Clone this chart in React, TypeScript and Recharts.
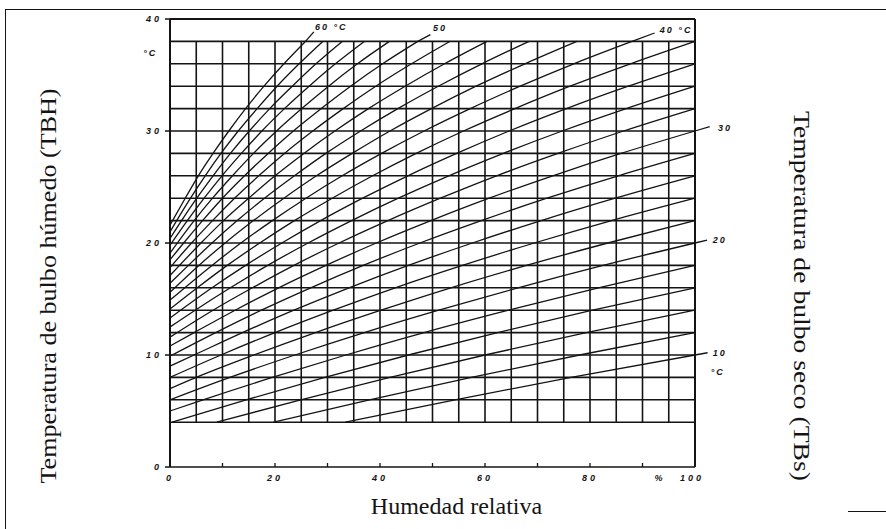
import React from 'react';
import { LineChart, Line, XAxis, YAxis, ReferenceLine, ReferenceDot } from 'recharts';

const INK = '#141414';

// relative humidity (%) and wet-bulb temperature (°C) grid
const RH_GRID = [0, 5, 10, 15, 20, 25, 30, 35, 40, 45, 50, 55, 60, 65, 70, 75, 80, 85, 90, 95, 100];
const TW_GRID = [4, 6, 8, 10, 12, 14, 16, 18, 20, 22, 24, 26, 28, 30, 32, 34, 36, 38];
const RH_TICKS = [0, 10, 20, 30, 40, 50, 60, 70, 80, 90, 100];
const TW_TICKS = [0, 10, 20, 30, 40];

// dry-bulb temperature of each slanted line (°C)
const DRY_BULB = [10, 12, 14, 16, 18, 20, 22, 24, 26, 28, 30, 32, 34, 36, 38, 40, 42, 44, 46, 48, 50, 52, 54, 56, 58, 60];

// [relative humidity %, wet-bulb °C] along each dry-bulb line
const DRY_BULB_CURVES: [number, number][][] = [
  [[33.4, 4], [54.3, 6], [76.4, 8], [100, 10]],
  [[19.7, 4], [38.0, 6], [57.4, 8], [78.0, 10], [100, 12]],
  [[8.9, 4], [24.9, 6], [41.9, 8], [60.0, 10], [79.3, 12], [100, 14]],
  [[0.4, 4], [14.5, 6], [29.5, 8], [45.4, 10], [62.4, 12], [80.5, 14], [100, 16]],
  [[0, 5.0], [6.3, 6], [19.5, 8], [33.5, 10], [48.4, 12], [64.5, 14], [81.6, 16], [100, 18]],
  [[0, 6.0], [11.4, 8], [23.8, 10], [37.0, 12], [51.2, 14], [66.3, 16], [82.5, 18], [100, 20]],
  [[0, 7.0], [5.0, 8], [16.0, 10], [27.7, 12], [40.2, 14], [53.5, 16], [67.9, 18], [83.4, 20], [100, 22]],
  [[0, 8.0], [9.7, 10], [20.0, 12], [31.1, 14], [42.9, 16], [55.7, 18], [69.4, 20], [84.1, 22], [100, 24]],
  [[0, 9.0], [4.6, 10], [13.8, 12], [23.6, 14], [34.1, 16], [45.4, 18], [57.6, 20], [70.7, 22], [84.8, 24], [100, 26]],
  [[0, 9.9], [8.7, 12], [17.4, 14], [26.8, 16], [36.8, 18], [47.6, 20], [59.3, 22], [71.8, 24], [85.4, 26], [100, 28]],
  [[0, 10.8], [4.6, 12], [12.4, 14], [20.7, 16], [29.7, 18], [39.3, 20], [49.7, 22], [60.8, 24], [72.9, 26], [85.9, 28], [100, 30]],
  [[0, 11.6], [8.2, 14], [15.7, 16], [23.6, 18], [32.2, 20], [41.5, 22], [51.5, 24], [62.2, 26], [73.9, 28], [86.4, 30], [100, 32]],
  [[0, 12.5], [4.8, 14], [11.5, 16], [18.6, 18], [26.3, 20], [34.6, 22], [43.5, 24], [53.1, 26], [63.5, 28], [74.7, 30], [86.9, 32], [100, 34]],
  [[0, 13.3], [8.0, 16], [14.4, 18], [21.3, 20], [28.7, 22], [36.7, 24], [45.3, 26], [54.6, 28], [64.6, 30], [75.5, 32], [87.3, 34], [100, 36]],
  [[0, 14.1], [5.2, 16], [10.9, 18], [17.1, 20], [23.7, 22], [30.9, 24], [38.6, 26], [46.9, 28], [55.9, 30], [65.7, 32], [76.2, 34], [87.7, 36], [100, 38]],
  [[0, 14.9], [8.0, 18], [13.5, 20], [19.5, 22], [25.9, 24], [32.8, 26], [40.3, 28], [48.4, 30], [57.2, 32], [66.7, 34], [76.9, 36], [88.0, 38]],
  [[0, 15.6], [5.5, 18], [10.5, 20], [15.9, 22], [21.7, 24], [27.9, 26], [34.7, 28], [41.9, 30], [49.8, 32], [58.3, 34], [67.6, 36], [77.5, 38]],
  [[0, 16.4], [3.5, 18], [8.0, 20], [12.8, 22], [18.0, 24], [23.7, 26], [29.7, 28], [36.3, 30], [43.4, 32], [51.1, 34], [59.4, 36], [68.4, 38]],
  [[0, 17.1], [5.9, 20], [10.2, 22], [15.0, 24], [20.0, 26], [25.5, 28], [31.4, 30], [37.8, 32], [44.8, 34], [52.3, 36], [60.4, 38]],
  [[0, 17.8], [4.1, 20], [8.1, 22], [12.3, 24], [16.9, 26], [21.8, 28], [27.2, 30], [33.0, 32], [39.2, 34], [46.0, 36], [53.3, 38]],
  [[0, 18.5], [2.6, 20], [6.2, 22], [10.0, 24], [14.2, 26], [18.7, 28], [23.5, 30], [28.8, 32], [34.4, 34], [40.5, 36], [47.2, 38]],
  [[0, 19.1], [4.6, 22], [8.1, 24], [11.9, 26], [15.9, 28], [20.3, 30], [25.1, 32], [30.2, 34], [35.7, 36], [41.8, 38]],
  [[0, 19.8], [3.3, 22], [6.5, 24], [9.9, 26], [13.6, 28], [17.5, 30], [21.8, 32], [26.5, 34], [31.5, 36], [37.0, 38]],
  [[0, 20.4], [2.2, 22], [5.1, 24], [8.2, 26], [11.5, 28], [15.1, 30], [19.0, 32], [23.3, 34], [27.8, 36], [32.8, 38]],
  [[0, 21.0], [3.9, 24], [6.7, 26], [9.7, 28], [13.0, 30], [16.6, 32], [20.4, 34], [24.6, 36], [29.1, 38]],
  [[0, 21.6], [2.9, 24], [5.4, 26], [8.2, 28], [11.2, 30], [14.4, 32], [17.9, 34], [21.7, 36], [25.8, 38]],
];

// labelled lines run a little past the grid towards their tag
const LEADERS: { t: number; to: [number, number] }[] = [
  { t: 10, to: [102.4, 10.2] },
  { t: 20, to: [102.3, 20.25] },
  { t: 30, to: [102.8, 30.4] },
  { t: 40, to: [92.3, 38.75] },
  { t: 50, to: [49.6, 38.6] },
  { t: 60, to: [27.4, 38.85] },
];

const TAGS: { text: string; rh: number; tw: number }[] = [
  { text: '60 °C', rh: 27.6, tw: 39.3 },
  { text: '50', rh: 50.1, tw: 39.2 },
  { text: '40 °C', rh: 93.3, tw: 39.0 },
  { text: '30', rh: 104.4, tw: 30.3 },
  { text: '20', rh: 103.4, tw: 20.3 },
  { text: '10', rh: 103.4, tw: 10.2 },
  { text: '°C', rh: 103.0, tw: 8.5 },
  { text: '°C', rh: -5.1, tw: 37.0 },
];

const tickFont = {
  fontFamily: 'Liberation Sans, sans-serif',
  fontStyle: 'italic' as const,
  fontWeight: 700,
  fontSize: 9,
  letterSpacing: 3,
  fill: INK,
};

const XTick = (props: any) => {
  const { x, y, payload } = props;
  const v = payload.value;
  return (
    <g>
      {v > 0 && v < 100 && <line x1={x} x2={x} y1={y} y2={y - 4} stroke={INK} strokeWidth={1.3} />}
      {v % 20 === 0 && v < 100 && (
        <text x={x} y={y + 14} textAnchor="middle" {...tickFont}>{v}</text>
      )}
      {v === 100 && (
        <>
          <text x={x - 3} y={y + 14} textAnchor="middle" {...tickFont}>{v}</text>
          <text x={x - 35} y={y + 14} textAnchor="middle" {...tickFont}>%</text>
        </>
      )}
    </g>
  );
};

const YTick = (props: any) => {
  const { x, y, payload } = props;
  return (
    <text x={x + 3} y={y} dy="0.35em" textAnchor="end" {...tickFont}>{payload.value}</text>
  );
};

const serif = { fontFamily: 'Liberation Serif, serif', fill: INK };

const renderXTitle = (props: any) => {
  const vb = props.viewBox;
  return (
    <text x={vb.x + vb.width / 2 + 24} y={vb.y + 47} textAnchor="middle" fontSize={24} {...serif}>
      Humedad relativa
    </text>
  );
};

const renderLeftTitle = (props: any) => {
  const vb = props.viewBox;
  const cx = vb.x - 74;
  const cy = vb.y + vb.height / 2 + 43;
  return (
    <text transform={`translate(${cx}, ${cy}) rotate(-90)`} textAnchor="middle" fontSize={24}
      textLength={395} lengthAdjust="spacingAndGlyphs" {...serif}>
      Temperatura de bulbo húmedo (TBH)
    </text>
  );
};

const renderRightTitle = (props: any) => {
  const vb = props.viewBox;
  const cx = vb.x + 99;
  const cy = vb.y + vb.height / 2 + 53;
  return (
    <text transform={`translate(${cx}, ${cy}) rotate(90)`} textAnchor="middle" fontSize={24}
      textLength={370} lengthAdjust="spacingAndGlyphs" {...serif}>
      Temperatura de bulbo seco (TBs)
    </text>
  );
};

export default function App() {
  return (
    <div style={{ position: 'absolute', left: 0, top: 0, width: 886, height: 529, background: '#fff' }}>
      <LineChart width={886} height={529} margin={{ top: 19, right: 131, bottom: 32, left: 130 }}>
        <XAxis
          type="number"
          dataKey="rh"
          domain={[0, 100]}
          ticks={RH_TICKS}
          interval={0}
          tickSize={0}
          tickMargin={0}
          tickLine={false}
          tick={<XTick />}
          axisLine={{ stroke: INK, strokeWidth: 1.6 }}
          height={30}
          label={renderXTitle}
        />
        <YAxis
          type="number"
          domain={[0, 40]}
          ticks={TW_TICKS}
          interval={0}
          tickSize={5}
          tickMargin={6}
          tickLine={{ stroke: INK, strokeWidth: 1.5 }}
          tick={<YTick />}
          axisLine={{ stroke: INK, strokeWidth: 2 }}
          width={40}
          label={renderLeftTitle}
        />
        <YAxis
          yAxisId="tbs"
          orientation="right"
          type="number"
          domain={[0, 40]}
          tick={false}
          tickLine={false}
          axisLine={false}
          width={60}
          label={renderRightTitle}
        />

        {RH_GRID.map((rh) => (
          <ReferenceLine key={`v${rh}`} segment={[{ x: rh, y: 4 }, { x: rh, y: 38 }]} stroke={INK} strokeWidth={1.6} />
        ))}
        {TW_GRID.map((tw) => (
          <ReferenceLine key={`h${tw}`} segment={[{ x: 0, y: tw }, { x: 100, y: tw }]} stroke={INK} strokeWidth={1.6} />
        ))}

        {DRY_BULB.map((t, i) => (
          <Line
            key={t}
            data={DRY_BULB_CURVES[i].map(([rh, tw]) => ({ rh, tw }))}
            dataKey="tw"
            type="monotone"
            stroke={INK}
            strokeWidth={1.3}
            dot={false}
            activeDot={false}
            isAnimationActive={false}
          />
        ))}

        {LEADERS.map(({ t, to }) => {
          const curve = DRY_BULB_CURVES[DRY_BULB.indexOf(t)];
          const end = curve[curve.length - 1];
          return (
            <ReferenceLine
              key={`l${t}`}
              segment={[{ x: end[0], y: end[1] }, { x: to[0], y: to[1] }]}
              stroke={INK}
              strokeWidth={1.3}
              ifOverflow="visible"
            />
          );
        })}

        <ReferenceLine y={40} stroke={INK} strokeWidth={2} />
        <ReferenceLine x={100} stroke={INK} strokeWidth={2} />

        {TAGS.map((tag, i) => (
          <ReferenceDot
            key={`t${i}`}
            x={tag.rh}
            y={tag.tw}
            r={0}
            ifOverflow="visible"
            shape={(p: any) => (
              <text x={p.cx} y={p.cy} dy="0.35em" textAnchor="start" {...tickFont} letterSpacing={2}>
                {tag.text}
              </text>
            )}
          />
        ))}
      </LineChart>
      <div style={{ position: 'absolute', left: 5, top: 9, width: 881, height: 520, borderLeft: `1.5px solid ${INK}`, borderTop: `1.5px solid ${INK}` }} />
      <div style={{ position: 'absolute', left: 848, top: 511, width: 38, borderTop: `1.5px solid ${INK}` }} />
    </div>
  );
}
